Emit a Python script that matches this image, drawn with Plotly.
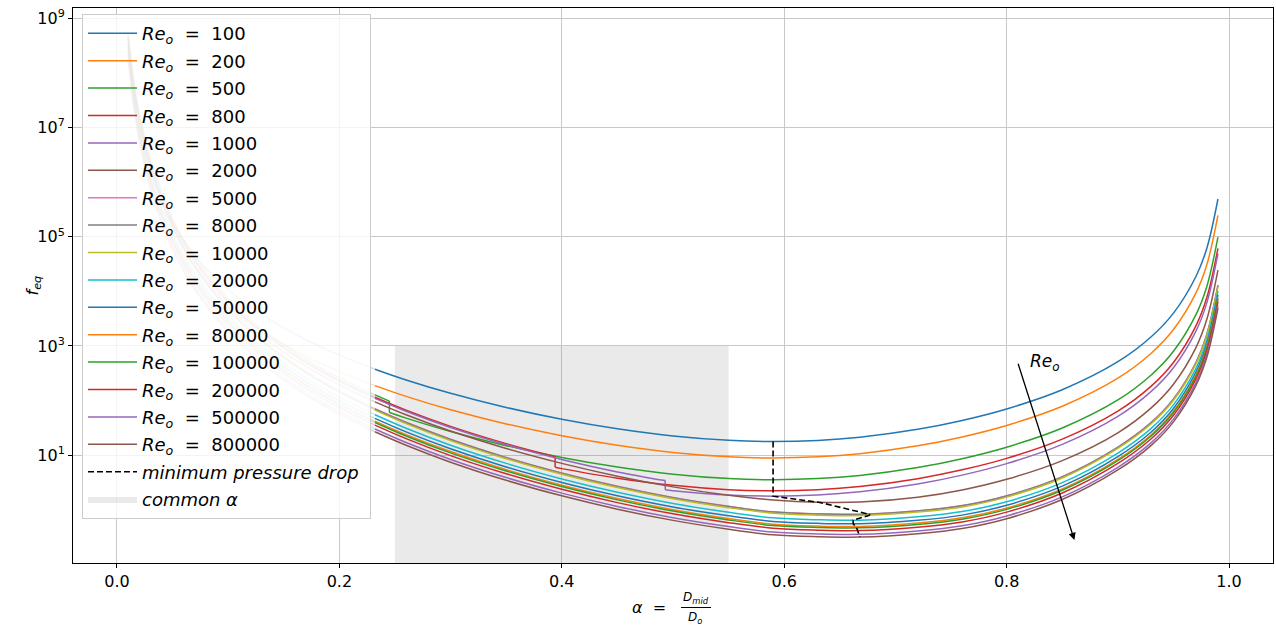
import plotly.graph_objects as go

# ---------------- data (log10 of f_eq) ----------------
RE_VALUES = [100, 200, 500, 800, 1000, 2000, 5000, 8000, 10000, 20000,
             50000, 80000, 100000, 200000, 500000, 800000]
COLORS = ["#1f77b4", "#ff7f0e", "#2ca02c", "#d62728", "#9467bd", "#8c564b",
          "#e377c2", "#7f7f7f", "#bcbd22", "#17becf",
          "#1f77b4", "#ff7f0e", "#2ca02c", "#d62728", "#9467bd", "#8c564b"]

ALPHA_RE100 = [0.01, 0.015, 0.02, 0.03, 0.04, 0.049, 0.049, 0.07, 0.1, 0.13, 0.17, 0.2, 0.232,
               0.26, 0.3, 0.35, 0.4, 0.45, 0.5, 0.55, 0.59, 0.63, 0.668,
               0.72, 0.76, 0.8, 0.85, 0.9, 0.93, 0.95, 0.97, 0.98, 0.99]
LOGF_RE100 = [8.729, 7.892, 7.299, 6.463, 5.869, 5.450, 5.275, 4.655, 4.036, 3.580, 3.114, 2.832, 2.576,
              2.379, 2.134, 1.875, 1.659, 1.484, 1.353, 1.273, 1.252, 1.272, 1.331,
              1.475, 1.637, 1.847, 2.199, 2.712, 3.169, 3.602, 4.263, 4.789, 5.690]

ALPHA_RE200 = [0.01, 0.015, 0.02, 0.03, 0.05, 0.07, 0.098, 0.098, 0.13, 0.17, 0.2, 0.232,
               0.26, 0.3, 0.35, 0.4, 0.45, 0.5, 0.55, 0.59, 0.63, 0.668,
               0.72, 0.76, 0.8, 0.85, 0.9, 0.93, 0.95, 0.97, 0.98, 0.99]
LOGF_RE200 = [8.654, 7.817, 7.224, 6.387, 5.334, 4.639, 3.945, 3.770, 3.279, 2.813, 2.531, 2.275,
              2.078, 1.833, 1.574, 1.358, 1.183, 1.052, 0.972, 0.951, 0.971, 1.030,
              1.174, 1.336, 1.546, 1.898, 2.411, 2.868, 3.301, 3.962, 4.488, 5.389]

ALPHA_RE500 = [0.01, 0.015, 0.02, 0.03, 0.05, 0.07, 0.1, 0.13, 0.17, 0.2, 0.232, 0.245, 0.245,
               0.26, 0.3, 0.35, 0.4, 0.45, 0.5, 0.55, 0.59, 0.63, 0.668,
               0.72, 0.76, 0.8, 0.85, 0.9, 0.93, 0.95, 0.97, 0.98, 0.99]
LOGF_RE500 = [8.659, 7.814, 7.215, 6.369, 5.304, 4.603, 3.859, 3.313, 2.753, 2.415, 2.105, 1.992, 1.782,
              1.680, 1.435, 1.176, 0.960, 0.785, 0.654, 0.574, 0.553, 0.573, 0.632,
              0.776, 0.938, 1.148, 1.500, 2.013, 2.470, 2.903, 3.564, 4.090, 4.991]

ALPHA_RE800 = [0.01, 0.015, 0.02, 0.03, 0.05, 0.07, 0.1, 0.13, 0.17, 0.2, 0.232,
               0.26, 0.3, 0.35, 0.394, 0.394, 0.4, 0.45, 0.5, 0.55, 0.59, 0.63, 0.668,
               0.72, 0.76, 0.8, 0.85, 0.9, 0.93, 0.95, 0.97, 0.98, 0.99]
LOGF_RE800 = [8.616, 7.771, 7.172, 6.326, 5.261, 4.560, 3.816, 3.270, 2.710, 2.372, 2.062,
              1.825, 1.529, 1.213, 0.975, 0.780, 0.756, 0.581, 0.450, 0.370, 0.349, 0.369, 0.428,
              0.572, 0.734, 0.944, 1.296, 1.809, 2.266, 2.699, 3.360, 3.886, 4.787]

ALPHA_RE1000 = [0.01, 0.015, 0.02, 0.03, 0.05, 0.07, 0.1, 0.13, 0.17, 0.2, 0.232,
                0.26, 0.3, 0.35, 0.4, 0.45, 0.493, 0.493, 0.5, 0.55, 0.59, 0.63, 0.668,
                0.72, 0.76, 0.8, 0.85, 0.9, 0.93, 0.95, 0.97, 0.98, 0.99]
LOGF_RE1000 = [8.595, 7.750, 7.151, 6.305, 5.240, 4.539, 3.795, 3.249, 2.689, 2.351, 2.041,
               1.805, 1.508, 1.192, 0.924, 0.696, 0.537, 0.369, 0.353, 0.273, 0.252, 0.272, 0.331,
               0.475, 0.637, 0.847, 1.199, 1.712, 2.169, 2.602, 3.263, 3.789, 4.690]

# common alpha grid for the curves without a visible jump
ALPHA_GRID = [0.01, 0.015, 0.02, 0.03, 0.05, 0.07, 0.1, 0.13, 0.17, 0.2, 0.232,
              0.26, 0.3, 0.35, 0.4, 0.45, 0.5, 0.55, 0.59, 0.63, 0.668,
              0.72, 0.76, 0.8, 0.85, 0.9, 0.93, 0.95, 0.97, 0.98, 0.99]
LOGF_RE2000 = [8.532, 7.687, 7.088, 6.242, 5.177, 4.476, 3.732, 3.186, 2.626, 2.288, 1.978,
               1.741, 1.443, 1.125, 0.852, 0.618, 0.422, 0.268, 0.182, 0.139, 0.143,
               0.232, 0.366, 0.561, 0.903, 1.412, 1.868, 2.301, 2.962, 3.488, 4.389]
LOGF_RE5000 = [8.679, 7.798, 7.174, 6.293, 5.184, 4.453, 3.679, 3.109, 2.526, 2.174, 1.851,
               1.604, 1.294, 0.962, 0.678, 0.434, 0.229, 0.067, -0.035, -0.070, -0.077,
               -0.015, 0.080, 0.260, 0.610, 1.151, 1.602, 2.032, 2.690, 3.214, 4.113]
LOGF_RE8000 = [8.674, 7.793, 7.169, 6.288, 5.179, 4.448, 3.674, 3.104, 2.521, 2.169, 1.846,
               1.599, 1.289, 0.957, 0.673, 0.429, 0.224, 0.062, -0.040, -0.075, -0.082,
               -0.020, 0.075, 0.255, 0.605, 1.146, 1.597, 2.027, 2.685, 3.209, 4.108]
LOGF_RE10000 = [8.654, 7.773, 7.149, 6.268, 5.159, 4.428, 3.654, 3.084, 2.501, 2.149, 1.826,
                1.579, 1.269, 0.937, 0.653, 0.409, 0.204, 0.042, -0.060, -0.095, -0.102,
                -0.040, 0.055, 0.235, 0.585, 1.126, 1.577, 2.007, 2.665, 3.189, 4.088]
LOGF_RE20000 = [8.569, 7.688, 7.064, 6.183, 5.074, 4.343, 3.569, 2.999, 2.416, 2.064, 1.741,
                1.494, 1.184, 0.852, 0.568, 0.324, 0.119, -0.043, -0.145, -0.180, -0.187,
                -0.125, -0.030, 0.150, 0.500, 1.041, 1.492, 1.922, 2.580, 3.104, 4.003]
LOGF_RE50000 = [8.504, 7.623, 6.999, 6.118, 5.009, 4.278, 3.504, 2.934, 2.351, 1.999, 1.676,
                1.429, 1.119, 0.787, 0.503, 0.259, 0.054, -0.108, -0.210, -0.245, -0.252,
                -0.190, -0.095, 0.085, 0.435, 0.976, 1.427, 1.857, 2.515, 3.039, 3.938]
LOGF_RE80000 = [8.454, 7.573, 6.949, 6.068, 4.959, 4.228, 3.454, 2.884, 2.301, 1.949, 1.626,
                1.379, 1.069, 0.737, 0.453, 0.209, 0.004, -0.158, -0.260, -0.295, -0.302,
                -0.240, -0.145, 0.035, 0.385, 0.926, 1.377, 1.807, 2.465, 2.989, 3.888]
LOGF_RE100000 = [8.429, 7.548, 6.924, 6.043, 4.934, 4.203, 3.429, 2.859, 2.276, 1.924, 1.601,
                 1.354, 1.044, 0.712, 0.428, 0.184, -0.021, -0.183, -0.285, -0.320, -0.327,
                 -0.265, -0.170, 0.010, 0.360, 0.901, 1.352, 1.782, 2.440, 2.964, 3.863]
LOGF_RE200000 = [8.379, 7.498, 6.874, 5.993, 4.884, 4.153, 3.379, 2.809, 2.226, 1.874, 1.551,
                 1.304, 0.994, 0.662, 0.378, 0.134, -0.071, -0.233, -0.335, -0.370, -0.377,
                 -0.315, -0.220, -0.040, 0.310, 0.851, 1.302, 1.732, 2.390, 2.914, 3.813]
LOGF_RE500000 = [8.309, 7.428, 6.804, 5.923, 4.814, 4.083, 3.309, 2.739, 2.156, 1.804, 1.481,
                 1.234, 0.924, 0.592, 0.308, 0.064, -0.141, -0.303, -0.405, -0.440, -0.447,
                 -0.385, -0.290, -0.110, 0.240, 0.781, 1.232, 1.662, 2.320, 2.844, 3.743]
LOGF_RE800000 = [8.259, 7.378, 6.754, 5.873, 4.764, 4.033, 3.259, 2.689, 2.106, 1.754, 1.431,
                 1.184, 0.874, 0.542, 0.258, 0.014, -0.191, -0.353, -0.455, -0.490, -0.497,
                 -0.435, -0.340, -0.160, 0.190, 0.731, 1.182, 1.612, 2.270, 2.794, 3.693]

CURVES = [
    (ALPHA_RE100, LOGF_RE100), (ALPHA_RE200, LOGF_RE200), (ALPHA_RE500, LOGF_RE500),
    (ALPHA_RE800, LOGF_RE800), (ALPHA_RE1000, LOGF_RE1000), (ALPHA_GRID, LOGF_RE2000),
    (ALPHA_GRID, LOGF_RE5000), (ALPHA_GRID, LOGF_RE8000), (ALPHA_GRID, LOGF_RE10000),
    (ALPHA_GRID, LOGF_RE20000), (ALPHA_GRID, LOGF_RE50000), (ALPHA_GRID, LOGF_RE80000),
    (ALPHA_GRID, LOGF_RE100000), (ALPHA_GRID, LOGF_RE200000), (ALPHA_GRID, LOGF_RE500000),
    (ALPHA_GRID, LOGF_RE800000),
]

# minimum pressure drop path (alpha at minimum, log10 f_eq at minimum)
MIN_ALPHA = [0.590, 0.590, 0.590, 0.590, 0.590, 0.632, 0.676, 0.677, 0.676,
             0.662, 0.662, 0.664, 0.665, 0.666, 0.667, 0.668]
MIN_LOGF = [1.252, 0.951, 0.553, 0.349, 0.252, 0.137, -0.077, -0.082, -0.102,
            -0.187, -0.252, -0.302, -0.327, -0.377, -0.447, -0.497]

COMMON_ALPHA = [0.25, 0.55]
COMMON_TOP = 1000

FADE_LIMIT = 0.232
FADE_OPACITY = 0.25
FONT = "DejaVu Sans"

fig = go.Figure()

# common alpha band
fig.add_trace(go.Scatter(
    x=[COMMON_ALPHA[0], COMMON_ALPHA[1], COMMON_ALPHA[1], COMMON_ALPHA[0], COMMON_ALPHA[0]],
    y=[1e-3, 1e-3, COMMON_TOP, COMMON_TOP, 1e-3],
    mode="lines", fill="toself", fillcolor="rgba(128,128,128,0.17)",
    line=dict(width=0, color="rgba(128,128,128,0.17)"),
    name="<i>common α</i>", legendgroup="common", legendrank=18, hoverinfo="skip"))


def add_curve(alpha, logf, color, label, rank):
    segs, jumps = [], []
    ca, cf = [alpha[0]], [logf[0]]
    for a, f in zip(alpha[1:], logf[1:]):
        if a == ca[-1]:
            jumps.append((a, cf[-1], f))
            segs.append((ca, cf))
            ca, cf = [a], [f]
        else:
            ca.append(a)
            cf.append(f)
    segs.append((ca, cf))
    grp = "g%d" % rank
    for sa, sf in segs:
        faded = [(a, f) for a, f in zip(sa, sf) if a <= FADE_LIMIT]
        solid = [(a, f) for a, f in zip(sa, sf) if a >= FADE_LIMIT]
        for part, op in ((faded, FADE_OPACITY), (solid, 1.0)):
            if len(part) >= 2:
                fig.add_trace(go.Scatter(
                    x=[p[0] for p in part], y=[10 ** p[1] for p in part],
                    mode="lines", line=dict(color=color, width=1.5, shape="spline", smoothing=1.0),
                    opacity=op, legendgroup=grp, showlegend=False, hoverinfo="skip"))
    for a, f1, f2 in jumps:
        fig.add_trace(go.Scatter(
            x=[a, a], y=[10 ** f1, 10 ** f2], mode="lines",
            line=dict(color=color, width=1.5),
            opacity=FADE_OPACITY if a < FADE_LIMIT else 1.0,
            legendgroup=grp, showlegend=False, hoverinfo="skip"))
    fig.add_trace(go.Scatter(
        x=[None], y=[None], mode="lines", line=dict(color=color, width=1.5),
        name=label, legendgroup=grp, legendrank=rank, showlegend=True))


for i, (re, (a, f)) in enumerate(zip(RE_VALUES, CURVES)):
    label = "<i>Re</i><sub><i>o</i></sub>\u00a0\u00a0=\u00a0\u00a0%d" % re
    add_curve(a, f, COLORS[i], label, i + 1)

fig.add_trace(go.Scatter(
    x=MIN_ALPHA, y=[10 ** v for v in MIN_LOGF], mode="lines",
    line=dict(color="black", width=1.6, dash="6px,3px"),
    name="<i>minimum pressure drop</i>\u00a0", legendgroup="minp", legendrank=17, hoverinfo="skip"))

# arrow and label
fig.add_annotation(x=0.8609, y=-0.55, ax=0.8099, ay=2.702, xref="x", yref="y",
                   axref="x", ayref="y", text="", showarrow=True, arrowhead=2,
                   arrowsize=1.1, arrowwidth=1.3, arrowcolor="black", standoff=0)
fig.add_annotation(x=0.8348, y=2.689, xref="x", yref="y", showarrow=False,
                   xanchor="center", yanchor="middle",
                   text="<i>Re</i><sub><i>o</i></sub>", font=dict(family=FONT, size=17, color="black"))

# axis labels
PW, PH, ML, MB = 1200, 555, 73, 63
def px(xp):
    return (xp - ML) / PW
def py(yp):
    return (563 - yp) / PH

fig.add_annotation(x=px(651), y=py(607), xref="paper", yref="paper", showarrow=False,
                   xanchor="center", yanchor="middle",
                   text="<i>α</i>\u00a0\u00a0=\u00a0", font=dict(family=FONT, size=16, color="black"))
fig.add_annotation(x=px(696), y=py(607), xref="paper", yref="paper", showarrow=False,
                   xanchor="center", yanchor="bottom", borderpad=0,
                   text="<i>D</i><sub><i>mid</i></sub>", font=dict(family=FONT, size=12, color="black"))
fig.add_annotation(x=px(695), y=py(608.5), xref="paper", yref="paper", showarrow=False,
                   xanchor="center", yanchor="top", borderpad=0,
                   text="<i>D</i><sub><i>o</i></sub>", font=dict(family=FONT, size=12, color="black"))
fig.add_shape(type="line", xref="paper", yref="paper", x0=px(681), x1=px(711),
              y0=py(607.5), y1=py(607.5), line=dict(color="black", width=1))
fig.add_annotation(x=px(33), y=0.5, xref="paper", yref="paper", showarrow=False, textangle=-90,
                   xanchor="center", yanchor="middle",
                   text="<i>f</i><sub><i>eq</i></sub>", font=dict(family=FONT, size=16, color="black"))

fig.update_layout(
    width=1276, height=626,
    margin=dict(l=73, r=3, t=8, b=63, pad=0),
    paper_bgcolor="white", plot_bgcolor="white",
    font=dict(family=FONT, size=16, color="black"),
    showlegend=True,
    legend=dict(x=0.0075, y=0.989, xanchor="left", yanchor="top",
                bgcolor="rgba(255,255,255,0.8)", bordercolor="#cccccc", borderwidth=1,
                font=dict(family=FONT, size=18, color="black"),
                traceorder="grouped", tracegroupgap=1, itemwidth=49),
)
fig.update_xaxes(range=[-0.0395, 1.0395], tickvals=[0, 0.2, 0.4, 0.6, 0.8, 1.0],
                 ticktext=["0.0", "0.2", "0.4", "0.6", "0.8", "1.0"],
                 showgrid=True, gridcolor="#c8c8c8", gridwidth=1, zeroline=False,
                 showline=True, linecolor="black", linewidth=1, mirror=True,
                 ticks="outside", ticklen=4, tickcolor="black",
                 tickfont=dict(family=FONT, size=16, color="black"))
fig.update_yaxes(type="log", range=[-0.971, 9.185],
                 tickvals=[1e1, 1e3, 1e5, 1e7, 1e9],
                 ticktext=["10<sup>1</sup>", "10<sup>3</sup>", "10<sup>5</sup>", "10<sup>7</sup>", "10<sup>9</sup>"],
                 showgrid=True, gridcolor="#c8c8c8", gridwidth=1, zeroline=False,
                 showline=True, linecolor="black", linewidth=1, mirror=True,
                 ticks="outside", ticklen=4, tickcolor="black",
                 tickfont=dict(family=FONT, size=16, color="black"))

fig.write_html("out.html")
